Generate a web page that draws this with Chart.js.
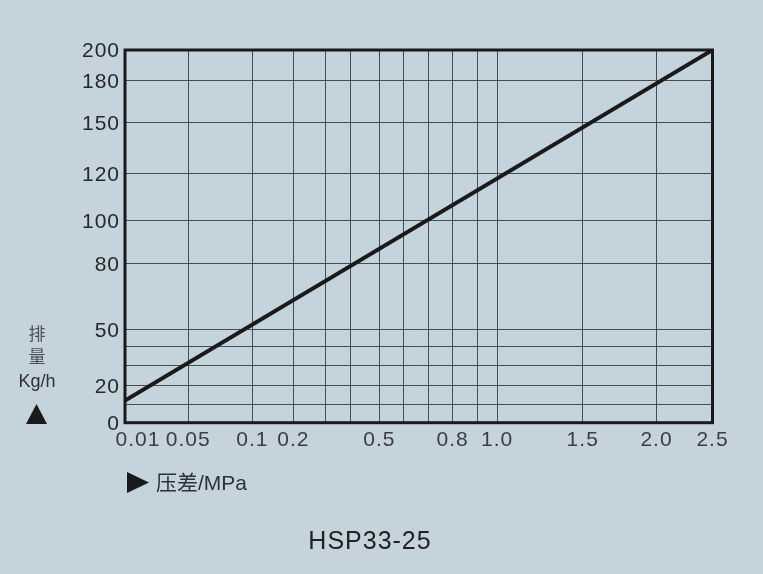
<!DOCTYPE html>
<html><head><meta charset="utf-8">
<script src="https://cdn.jsdelivr.net/npm/chart.js@4/dist/chart.umd.min.js"></script>
<style>
html,body{margin:0;padding:0;background:#c5d3dd;}
#wrap{position:relative;width:763px;height:574px;}
canvas{display:block;}
</style></head><body>
<div id="wrap"><canvas id="c" width="763" height="574"></canvas></div>
<script>
// ---- data ----
const pressure = [0.01, 2.5];          // 压差 MPa
const discharge = [12, 200];           // 排量 Kg/h
const xTickValues = [0.01, 0.05, 0.1, 0.2, 0.3, 0.4, 0.5, 0.6, 0.7, 0.8, 0.9, 1.0, 1.5, 2.0, 2.5];
const xTickLabels = ['0.01', '0.05', '0.1', '0.2', '', '', '0.5', '', '', '0.8', '', '1.0', '1.5', '2.0', '2.5'];
const yTickValues = [0, 10, 20, 30, 40, 50, 80, 100, 120, 150, 180, 200];
const yTickLabels = ['0', '', '20', '', '', '50', '80', '100', '120', '150', '180', '200'];
const xTitle = '压差/MPa';
const yTitle = ['排', '量', 'Kg/h'];
const chartTitle = 'HSP33-25';

// ---- scale geometry: fraction of axis length at each tick value ----
const xTickFrac = [0, 0.1077, 0.2167, 0.2865, 0.3416, 0.3838, 0.4329, 0.4734, 0.5166, 0.5576, 0.6003, 0.6335, 0.7791, 0.9047, 1];
const yTickFrac = [0, 0.0494, 0.1003, 0.1535, 0.2050, 0.2506, 0.4277, 0.5420, 0.6692, 0.8060, 0.9176, 1];
const breaks = { x: { v: xTickValues, f: xTickFrac }, y: { v: yTickValues, f: yTickFrac } };
const labelShift = { x: { only: '0.01', dx: 13, dy: 0 }, y: { only: null, dx: 0, dy: 1.5 } };

class PiecewiseScale extends Chart.LinearScale {
  _toFrac(v) {
    const b = breaks[this.id], vals = b.v, fr = b.f;
    if (v <= vals[0]) return fr[0];
    for (let i = 1; i < vals.length; i++) {
      if (v <= vals[i]) {
        const t = (v - vals[i - 1]) / (vals[i] - vals[i - 1]);
        return fr[i - 1] + t * (fr[i] - fr[i - 1]);
      }
    }
    return fr[fr.length - 1];
  }
  getPixelForValue(v) {
    if (v === null || v === undefined || isNaN(v)) return NaN;
    return this.getPixelForDecimal(this._toFrac(v));
  }
  getValueForPixel(p) {
    const d = this.getDecimalForPixel(p);
    const b = breaks[this.id], vals = b.v, fr = b.f;
    for (let i = 1; i < fr.length; i++) {
      if (d <= fr[i]) {
        const t = (d - fr[i - 1]) / (fr[i] - fr[i - 1]);
        return vals[i - 1] + t * (vals[i] - vals[i - 1]);
      }
    }
    return vals[vals.length - 1];
  }
  _computeLabelItems(area) {
    const items = super._computeLabelItems(area);
    const sh = labelShift[this.id];
    if (sh) items.forEach(it => {
      if (sh.only === null || it.label === sh.only) {
        it.options.translation[0] += sh.dx;
        it.options.translation[1] += sh.dy;
      }
    });
    return items;
  }
}
PiecewiseScale.id = 'piecewise';
PiecewiseScale.defaults = Chart.LinearScale.defaults;
Chart.register(PiecewiseScale);

const INK = '#1a1a1a';
const GRID = '#454c54';

const decor = {
  id: 'decor',
  beforeDraw(chart) {
    chart.ctx.letterSpacing = '1px';
  },
  beforeDatasetsDraw(chart) {
    const { ctx, chartArea: a } = chart;
    ctx.save();
    ctx.strokeStyle = INK;
    ctx.lineWidth = 3;
    ctx.strokeRect(a.left, a.top, a.right - a.left, a.bottom - a.top);
    ctx.restore();
  },
  afterDraw(chart) {
    const ctx = chart.ctx;
    ctx.save();
    ctx.textAlign = 'center';
    ctx.textBaseline = 'middle';
    // y title stacked
    ctx.letterSpacing = '0px';
    ctx.fillStyle = '#4c5156';
    ctx.font = '17px "Noto Sans CJK SC"';
    ctx.fillText(yTitle[0], 37, 334);
    ctx.fillText(yTitle[1], 37, 357);
    ctx.fillStyle = '#2e3236';
    ctx.font = '18px "Liberation Sans"';
    ctx.fillText(yTitle[2], 37, 382);
    // up triangle
    ctx.fillStyle = INK;
    ctx.beginPath();
    ctx.moveTo(36.5, 404); ctx.lineTo(47, 424); ctx.lineTo(26, 424); ctx.closePath(); ctx.fill();
    // right triangle
    ctx.beginPath();
    ctx.moveTo(127, 472); ctx.lineTo(149, 482.5); ctx.lineTo(127, 493); ctx.closePath(); ctx.fill();
    // x title
    ctx.textAlign = 'left';
    ctx.fillStyle = '#2e3236';
    ctx.font = '21px "Liberation Sans", "Noto Sans CJK SC"';
    ctx.fillText(xTitle, 156, 484);
    // chart title
    ctx.textAlign = 'center';
    ctx.fillStyle = '#222';
    ctx.letterSpacing = '1px';
    ctx.font = '25px "Liberation Sans"';
    ctx.fillText(chartTitle, 370, 542);
    ctx.restore();
  }
};

new Chart(document.getElementById('c'), {
  type: 'line',
  data: {
    datasets: [{
      data: pressure.map((x, i) => ({ x: x, y: discharge[i] })),
      borderColor: INK,
      borderWidth: 4,
      pointRadius: 0,
      tension: 0,
      fill: false
    }]
  },
  options: {
    responsive: false,
    animation: false,
    devicePixelRatio: 1,
    layout: { padding: { top: 50, right: 50.5, bottom: 0, left: 0 } },
    plugins: { legend: { display: false }, tooltip: { enabled: false } },
    scales: {
      x: {
        type: 'piecewise',
        min: 0.01, max: 2.5,
        afterBuildTicks: s => { s.ticks = xTickValues.map(v => ({ value: v })); },
        afterFit: s => { s.height = 151.3; },
        grid: { color: GRID, lineWidth: 1, drawTicks: false },
        border: { display: false },
        ticks: {
          autoSkip: false, maxRotation: 0, minRotation: 0, padding: 5,
          color: '#3a3e42',
          font: { family: 'Liberation Sans', size: 21 },
          callback: (v, i) => xTickLabels[i]
        }
      },
      y: {
        type: 'piecewise',
        min: 0, max: 200,
        afterBuildTicks: s => { s.ticks = yTickValues.map(v => ({ value: v })); },
        afterFit: s => { s.width = 125; },
        grid: { color: GRID, lineWidth: 1, drawTicks: false },
        border: { display: false },
        ticks: {
          autoSkip: false, padding: 5,
          color: '#26292c',
          font: { family: 'Liberation Sans', size: 21 },
          callback: (v, i) => yTickLabels[i]
        }
      }
    }
  },
  plugins: [decor]
});
</script>
</body></html>
